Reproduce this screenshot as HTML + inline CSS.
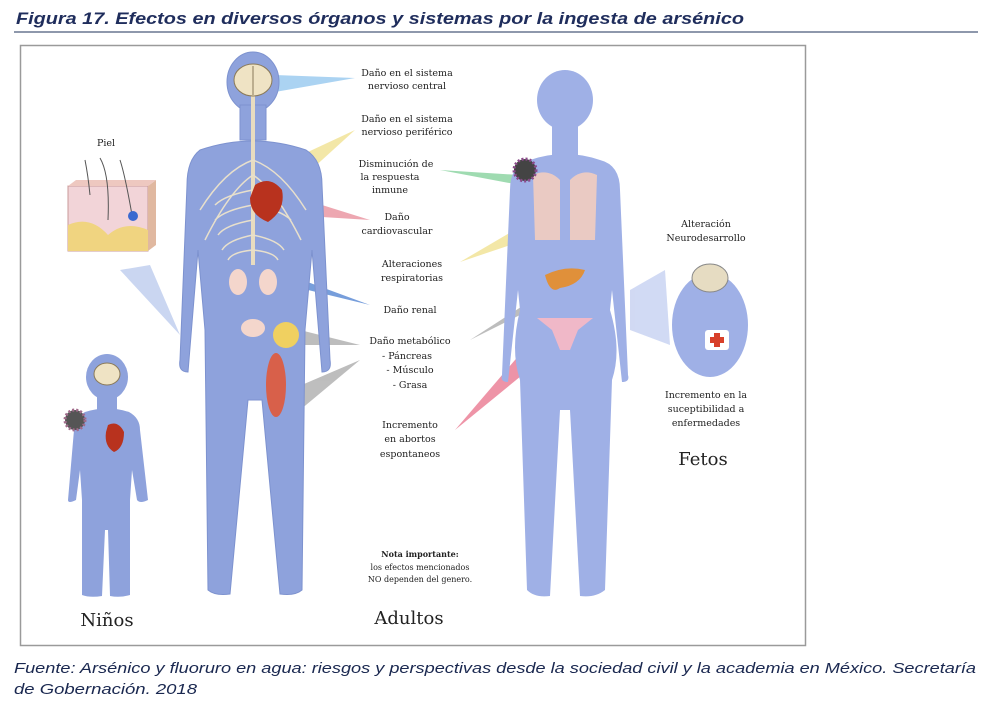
<!DOCTYPE html>
<html><head><meta charset="utf-8"><style>
html,body{margin:0;padding:0;background:#fff;}
svg{display:block}
</style></head><body>
<svg width="992" height="701" viewBox="0 0 992 701" xmlns="http://www.w3.org/2000/svg">
<text x="16" y="24" font-family="Liberation Sans, sans-serif" font-size="17" font-weight="bold" font-style="italic" fill="#1f2d5c" textLength="728" lengthAdjust="spacingAndGlyphs">Figura 17. Efectos en diversos órganos y sistemas por la ingesta de arsénico</text>
<line x1="14" y1="32" x2="978" y2="32" stroke="#4a5a7a" stroke-width="1.2"/>
<rect x="20.5" y="45.5" width="785" height="600" fill="#fff" stroke="#9a9a9a" stroke-width="1.5"/>

<!-- rays -->
<g opacity="0.75">
<polygon points="275,75 355,78 275,92" fill="#8fc4ee"/>
<polygon points="280,165 355,130 300,180" fill="#f0e08a"/>
<polygon points="520,175 440,170 520,185" fill="#7fcf98"/>
<polygon points="290,195 370,220 290,215" fill="#e88a98"/>
<polygon points="540,215 460,262 540,235" fill="#f0e08a"/>
<polygon points="275,270 370,305 275,282" fill="#4a7ed0"/>
<polygon points="300,330 360,345 300,345" fill="#a8a8a8"/>
<polygon points="290,390 360,360 300,410" fill="#a8a8a8"/>
<polygon points="555,285 470,340 550,300" fill="#a8a8a8"/>
<polygon points="545,325 455,430 565,340" fill="#e8708a"/>
<polygon points="120,270 180,335 150,265" fill="#b8c8ec"/>
<polygon points="630,290 665,270 670,345 630,330" fill="#c2cdf0"/>
</g>

<!-- adult male -->
<g fill="#8ea2dc" stroke="#7d92cf" stroke-width="1">
<ellipse cx="253" cy="82" rx="26" ry="30"/>
<rect x="240" y="105" width="26" height="35"/>
<path d="M200,150 Q253,132 306,150 Q322,160 322,185 L330,360 Q332,372 322,372 L312,250 L305,330 L302,590 Q295,596 280,594 L262,400 L248,400 L230,594 Q215,596 208,590 L205,330 L198,250 L188,372 Q178,372 180,360 L187,185 Q187,160 200,150 Z"/>
</g>
<!-- spine and nerves -->
<line x1="253" y1="95" x2="253" y2="265" stroke="#e8dcc0" stroke-width="4"/>
<g stroke="#e8e0cc" stroke-width="1.5" fill="none">
<path d="M253,160 Q225,170 200,210"/><path d="M253,160 Q281,170 306,210"/>
<path d="M253,175 Q230,190 205,240"/><path d="M253,175 Q276,190 301,240"/>
<path d="M253,190 Q225,195 215,205"/><path d="M253,205 Q225,210 215,220"/>
<path d="M253,220 Q225,225 218,235"/><path d="M253,235 Q228,240 222,250"/>
<path d="M253,250 Q232,252 228,260"/>
<path d="M253,205 Q281,210 291,220"/><path d="M253,235 Q278,240 284,250"/>
<path d="M253,250 Q274,252 278,260"/>
</g>
<ellipse cx="253" cy="80" rx="19" ry="16" fill="#efe3c4" stroke="#8a7a5a"/>
<line x1="253" y1="66" x2="253" y2="95" stroke="#8a7a5a"/>
<path d="M255,185 Q270,175 282,190 Q286,210 268,222 Q250,215 250,198 Z" fill="#b8321e"/>
<ellipse cx="238" cy="282" rx="9" ry="13" fill="#f4d6cc"/>
<ellipse cx="268" cy="282" rx="9" ry="13" fill="#f4d6cc"/>
<ellipse cx="253" cy="328" rx="12" ry="9" fill="#f4d6cc"/>
<circle cx="286" cy="335" r="13" fill="#f0d060"/>
<ellipse cx="276" cy="385" rx="10" ry="32" fill="#d8604a"/>

<!-- adult female -->
<g fill="#9fb0e6">
<ellipse cx="565" cy="100" rx="28" ry="30"/>
<rect x="552" y="125" width="26" height="30"/>
<path d="M530,160 Q565,148 600,160 Q620,165 620,190 L628,375 Q630,382 622,382 L612,290 L610,310 Q622,350 612,380 L605,590 Q595,598 580,596 L570,410 L560,410 L550,596 Q535,598 527,590 L520,380 Q510,350 520,310 L518,290 L508,382 Q500,382 502,375 L510,190 Q510,165 530,160 Z"/>
</g>
<path d="M533,175 Q548,168 560,180 L560,240 L535,240 Z" fill="#f2cdbf" opacity="0.9"/>
<path d="M597,175 Q582,168 570,180 L570,240 L595,240 Z" fill="#f2cdbf" opacity="0.9"/>
<path d="M545,275 Q565,265 585,270 Q580,285 560,288 Q550,295 545,275Z" fill="#e0903a"/>
<path d="M537,318 L593,318 L578,330 L570,350 L560,350 L552,330 Z" fill="#f0b8c8"/>
<circle cx="525" cy="170" r="11" fill="#444" stroke="#8a4a8a" stroke-width="3" stroke-dasharray="2 2"/>

<!-- fetus -->
<ellipse cx="710" cy="325" rx="38" ry="52" fill="#9fb0e6"/>
<ellipse cx="710" cy="278" rx="18" ry="14" fill="#e6dcc2" stroke="#888"/>
<rect x="705" y="330" width="24" height="20" rx="3" fill="#fff"/>
<rect x="714" y="333" width="6" height="14" fill="#d8402a"/>
<rect x="710" y="337" width="14" height="6" fill="#d8402a"/>

<!-- child -->
<g fill="#8ea2dc">
<ellipse cx="107" cy="377" rx="21" ry="23"/>
<rect x="97" y="395" width="20" height="20"/>
<path d="M85,412 Q107,405 129,412 Q140,418 140,430 L148,500 Q140,504 137,500 L132,470 L130,500 L130,595 Q120,598 110,596 L108,530 L105,530 L102,596 Q90,598 82,595 L82,500 L80,470 L76,500 Q68,504 68,500 L74,430 Q74,418 85,412 Z"/>
</g>
<ellipse cx="107" cy="374" rx="13" ry="11" fill="#efe3c4" stroke="#8a7a5a"/>
<path d="M108,425 Q118,420 124,432 Q124,448 114,452 Q104,446 106,432Z" fill="#b8321e"/>
<circle cx="75" cy="420" r="10" fill="#555" stroke="#a06a8a" stroke-width="3" stroke-dasharray="2 2"/>

<!-- skin -->
<rect x="68" y="186" width="80" height="65" fill="#f2d4d8" stroke="#c89a9a"/>
<path d="M68,225 Q90,215 108,235 Q125,220 148,230 L148,251 L68,251 Z" fill="#f0d480"/>
<path d="M148,186 L156,180 L156,245 L148,251Z" fill="#e0b8a0"/>
<path d="M68,186 L76,180 L156,180 L148,186Z" fill="#eec8c0"/>
<path d="M85,160 Q88,175 90,195 M100,158 Q110,175 108,220 M120,160 Q125,175 132,215" stroke="#555" fill="none"/>
<circle cx="133" cy="216" r="5" fill="#3a6ad0"/>

<g font-family="DejaVu Serif, Liberation Serif, serif" font-size="9.5" fill="#222" text-anchor="middle">
<text x="407" y="76">Daño en el sistema</text><text x="407" y="89">nervioso central</text>
<text x="407" y="122">Daño en el sistema</text><text x="407" y="135">nervioso periférico</text>
<text x="396" y="167">Disminución de</text><text x="390" y="180">la respuesta</text><text x="390" y="193">inmune</text>
<text x="397" y="220">Daño</text><text x="397" y="234">cardiovascular</text>
<text x="412" y="267">Alteraciones</text><text x="412" y="281">respiratorias</text>
<text x="410" y="313">Daño renal</text>
<text x="410" y="344">Daño metabólico</text>
<text x="407" y="359">-  Páncreas</text><text x="410" y="373">-  Músculo</text><text x="410" y="388">-  Grasa</text>
<text x="410" y="428">Incremento</text><text x="410" y="442">en abortos</text><text x="410" y="457">espontaneos</text>
<text x="106" y="146">Piel</text>
<text x="706" y="227">Alteración</text><text x="706" y="241">Neurodesarrollo</text>
<text x="706" y="398">Incremento en la</text><text x="706" y="412">suceptibilidad a</text><text x="706" y="426">enfermedades</text>
<text x="420" y="557" font-size="8" font-weight="bold">Nota importante:</text>
<text x="420" y="570" font-size="8">los efectos mencionados</text>
<text x="420" y="582" font-size="8">NO dependen del genero.</text>
<text x="107" y="626" font-size="18">Niños</text>
<text x="409" y="624" font-size="18">Adultos</text>
<text x="703" y="465" font-size="18">Fetos</text>
</g>

<g font-family="Liberation Sans, sans-serif" font-size="15" font-style="italic" fill="#1a2850">
<text x="14" y="673" textLength="962" lengthAdjust="spacingAndGlyphs">Fuente: Arsénico y fluoruro en agua: riesgos y perspectivas desde la sociedad civil y la academia en México. Secretaría</text>
<text x="14" y="694" textLength="183" lengthAdjust="spacingAndGlyphs">de Gobernación. 2018</text>
</g>
</svg>
</body></html>
